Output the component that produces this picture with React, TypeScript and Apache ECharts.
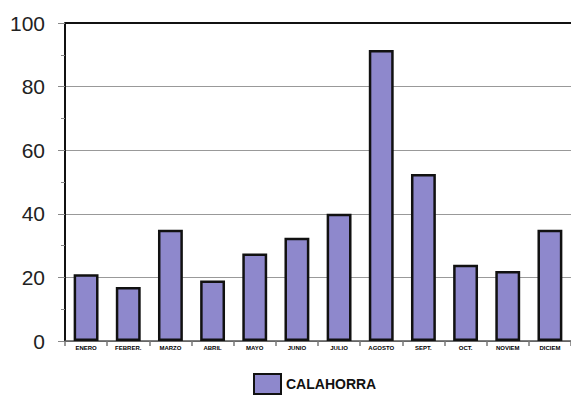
import React, { useEffect, useRef } from "react";
import * as echarts from "echarts";

const categories = ["ENERO", "FEBRER.", "MARZO", "ABRIL", "MAYO", "JUNIO", "JULIO", "AGOSTO", "SEPT.", "OCT.", "NOVIEM", "DICIEM"];
const calahorra = [21, 17, 35, 19, 27.5, 32.5, 40, 91.5, 52.5, 24, 22, 35];
const seriesName = "CALAHORRA";

export default function App() {
  const ref = useRef<HTMLDivElement>(null);
  useEffect(() => {
    if (!ref.current) return;
    const chart = echarts.init(ref.current, null, { renderer: "svg" });
    chart.setOption({
      animation: false,
      backgroundColor: "#ffffff",
      grid: { left: 65, top: 23, bottom: 65, right: -7, containLabel: false },
      legend: {
        data: [{ name: seriesName, icon: "rect" }],
        bottom: 6,
        left: 248,
        itemWidth: 27,
        itemHeight: 20,
        itemGap: 6,
        textStyle: { fontFamily: "Liberation Sans, Arial, sans-serif", fontWeight: "bold", fontSize: 14, color: "#111" },
      },
      xAxis: {
        type: "category",
        data: categories,
        boundaryGap: true,
        axisLine: { lineStyle: { color: "#555", width: 1.5 } },
        axisTick: { show: true, interval: 0, length: 5, lineStyle: { color: "#777", width: 1.5 } },
        axisLabel: {
          interval: 0,
          fontSize: 6,
          fontWeight: "bold",
          color: "#000",
          margin: 4,
          fontFamily: "Liberation Sans, Arial, sans-serif",
        },
      },
      yAxis: {
        type: "value",
        min: 0,
        max: 100,
        interval: 20,
        axisLine: { show: true, lineStyle: { color: "#111", width: 2 } },
        axisTick: { show: true, length: 7, lineStyle: { color: "#888" } },
        minorTick: { show: true, splitNumber: 2, length: 4, lineStyle: { color: "#888" } },
        splitLine: { show: true, lineStyle: { color: "#999", width: 1 } },
        axisLabel: {
          fontSize: 21,
          color: "#222",
          margin: 20,
          fontFamily: "Liberation Sans, Arial, sans-serif",
        },
      },
      series: [
        {
          name: seriesName,
          type: "bar",
          data: calahorra,
          barCategoryGap: "41%",
          itemStyle: { color: "#8e88cc", borderColor: "#111", borderWidth: 2.5 },
          markLine: {
            silent: true,
            symbol: "none",
            label: { show: false },
            lineStyle: { color: "#111", width: 2, type: "solid" },
            data: [{ yAxis: 100 }],
          },
        },
      ],
    });
    return () => chart.dispose();
  }, []);
  return <div ref={ref} style={{ position: "fixed", left: 0, top: 0, width: 571, height: 406 }} />;
}
